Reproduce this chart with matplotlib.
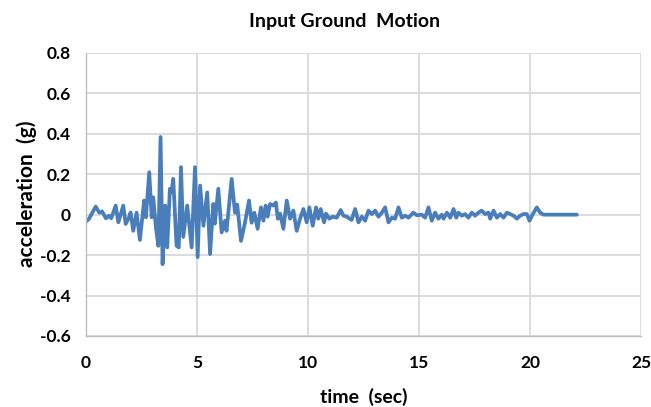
import numpy as np
import matplotlib
matplotlib.use("Agg")
import matplotlib.pyplot as plt

# acceleration record (time in sec, acceleration in g)
time_sec = [
    0.0, 0.14, 0.44, 0.6, 0.73, 0.9, 1.04, 1.14, 1.34, 1.46, 1.57, 1.68, 1.79,
    1.94, 2.01, 2.13, 2.28, 2.43, 2.62, 2.7, 2.85, 2.96, 3.03, 3.15, 3.26,
    3.36, 3.45, 3.57, 3.66, 3.78, 3.85, 3.93, 4.08, 4.18, 4.28, 4.38, 4.56,
    4.76, 4.91, 5.03, 5.14, 5.29, 5.46, 5.59, 5.73, 5.8, 5.96, 6.11, 6.26,
    6.33, 6.56, 6.71, 6.81, 6.98, 7.16, 7.34, 7.46, 7.58, 7.73, 7.88, 7.99,
    8.09, 8.18, 8.29, 8.44, 8.55, 8.64, 8.74, 8.89, 9.04, 9.19, 9.34, 9.49,
    9.64, 9.79, 9.94, 10.06, 10.21, 10.36, 10.46, 10.57, 10.72, 10.81, 10.96,
    11.11, 11.29, 11.47, 11.59, 11.74, 11.96, 12.12, 12.27, 12.42, 12.57,
    12.72, 12.87, 13.02, 13.17, 13.32, 13.47, 13.62, 13.77, 13.92, 14.07,
    14.22, 14.37, 14.52, 14.74, 14.9, 15.12, 15.27, 15.42, 15.57, 15.72,
    15.87, 16.02, 16.1, 16.25, 16.4, 16.55, 16.67, 16.77, 16.92, 17.07,
    17.22, 17.37, 17.52, 17.67, 17.82, 17.97, 18.12, 18.2, 18.35, 18.5,
    18.65, 18.8, 18.95, 19.1, 19.25, 19.4, 19.55, 19.7, 19.85, 19.97, 20.12,
    20.3, 20.45, 20.6, 22.1,
]
accel_g = [
    -0.035, -0.02, 0.04, 0.01, 0.016, -0.018, -0.005, -0.018, 0.045, -0.038,
    0.003, 0.045, -0.046, -0.013, 0.011, -0.08, 0.01, -0.125, 0.07, -0.013,
    0.21, -0.013, 0.086, -0.063, -0.154, 0.384, -0.245, 0.045, -0.162, 0.128,
    0.11, 0.177, -0.154, -0.162, 0.235, -0.11, 0.045, -0.162, 0.235, -0.21,
    0.144, -0.055, 0.11, -0.195, 0.053, -0.045, 0.128, -0.088, -0.03, -0.08,
    0.177, 0.01, 0.05, -0.13, -0.04, 0.07, -0.04, 0.01, -0.07, 0.036, -0.03,
    0.045, -0.01, 0.053, 0.045, 0.06, -0.02, 0.005, -0.07, 0.07, -0.02, 0.02,
    -0.08, -0.02, 0.028, -0.038, 0.036, -0.055, 0.036, -0.02, 0.028, -0.038,
    0.005, -0.02, -0.01, -0.015, 0.023, -0.005, -0.01, -0.026, 0.028, -0.038,
    -0.01, -0.03, 0.02, 0.003, 0.02, -0.01, 0.01, 0.036, -0.038, -0.015,
    -0.02, 0.036, -0.015, -0.005, -0.015, 0.01, -0.003, 0.0, -0.015, 0.036,
    -0.03, 0.01, -0.02, 0.0, -0.02, 0.01, -0.015, 0.028, -0.015, 0.01, -0.005,
    0.003, -0.015, 0.01, -0.005, 0.01, 0.02, 0.003, 0.01, -0.02, 0.02, -0.015,
    0.003, -0.015, 0.01, 0.003, -0.005, -0.02, -0.005, 0.003, 0.003, -0.03,
    0.003, 0.036, 0.01, 0.0, 0.0,
]

x_ticks = [0, 5, 10, 15, 20, 25]
y_ticks = [-0.6, -0.4, -0.2, 0, 0.2, 0.4, 0.6, 0.8]
y_labels = ["-0.6", "-0.4", "-0.2", "0", "0.2", "0.4", "0.6", "0.8"]

plt.rcParams['font.family'] = ['Lato', 'DejaVu Sans']

fig = plt.figure(figsize=(6.51, 4.07), dpi=100)
ax = fig.add_axes([0.132, 0.1745, 0.853, 0.6955])

ax.plot(time_sec, accel_g, color='#4A7EBB', linewidth=2.7,
        solid_joinstyle='round', solid_capstyle='round')

ax.set_xlim(0, 25)
ax.set_ylim(-0.6, 0.8)
ax.set_xticks(x_ticks)
ax.set_xticklabels([str(v) for v in x_ticks])
ax.set_yticks(y_ticks)
ax.set_yticklabels(y_labels)

ax.grid(True, color='#D9D9D9', linewidth=1.3)
ax.set_axisbelow(True)
for side in ['top', 'right']:
    ax.spines[side].set_visible(False)
for side in ['left', 'bottom']:
    ax.spines[side].set_color('#BFBFBF')
    ax.spines[side].set_linewidth(1.0)

ax.tick_params(axis='both', length=0, labelsize=12.5)
ax.tick_params(axis='y', pad=11)
ax.tick_params(axis='x', pad=14)
for lbl in ax.get_xticklabels() + ax.get_yticklabels():
    lbl.set_fontweight('bold')

fig.text(0.53, 0.946, 'Input Ground  Motion', ha='center', va='center',
         fontsize=14, fontweight='bold')
fig.text(0.558, 0.025, 'time  (sec)', ha='center', va='center',
         fontsize=14, fontweight='bold')
fig.text(0.041, 0.525, 'acceleration  (g)', ha='center', va='center',
         rotation=90, fontsize=15, fontweight='bold')

fig.savefig('out.png', dpi=100)
